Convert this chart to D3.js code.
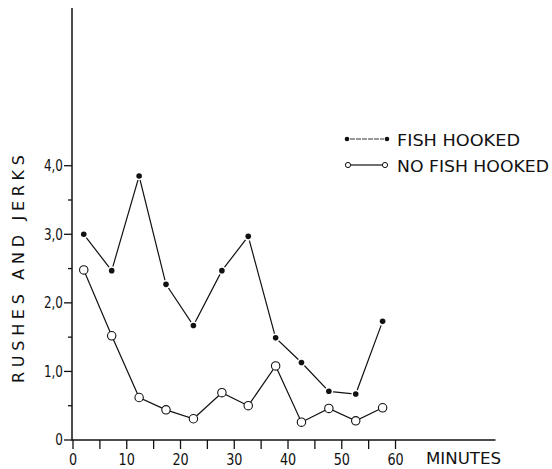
<!DOCTYPE html>
<html>
<head>
<meta charset="utf-8">
<script src="https://cdn.jsdelivr.net/npm/d3@7"></script>
<style>
  html, body { margin: 0; padding: 0; background: #fff; }
  svg { display: block; }
  text { font-family: "Liberation Sans Narrow", "DejaVu Sans", sans-serif; fill: #111; }
</style>
</head>
<body>
<svg id="chart" width="552" height="469"></svg>
<script>
// minutes (midpoints of 5-minute bins)
const minutes = [2, 7.2, 12.3, 17.3, 22.4, 27.7, 32.6, 37.7, 42.5, 47.6, 52.6, 57.6];
const fishHooked = [3.0, 2.47, 3.85, 2.27, 1.67, 2.47, 2.97, 1.49, 1.13, 0.71, 0.67, 1.73];
const noFishHooked = [2.48, 1.52, 0.62, 0.44, 0.31, 0.69, 0.5, 1.08, 0.26, 0.46, 0.28, 0.47];

const xTicks = [0, 5, 10, 15, 20, 25, 30, 35, 40, 45, 50, 55, 60];
const xLabels = [0, 10, 20, 30, 40, 50, 60];
const yMajor = [0, 1, 2, 3, 4];
const yMinor = [0.5, 1.5, 2.5, 3.5];
const yLabel = d => d === 0 ? "0" : d.toFixed(1).replace(".", ",");

const svg = d3.select("#chart");
const narrow = 0.8; // squeeze glyphs horizontally, the lettering is condensed

const x = d3.scaleLinear().domain([0, 78.6]).range([73, 495.5]);
const y = d3.scaleLinear().domain([0, 6.3]).range([440, 8]);

// axes
const gx = svg.append("g").attr("transform", `translate(0,${y(0)})`);
gx.append("line")
    .attr("x1", 72).attr("x2", x(78.6))
    .attr("stroke", "#111").attr("stroke-width", 1.5);
gx.selectAll(".tk").data(xTicks).join("line")
    .attr("x1", d => x(d)).attr("x2", d => x(d))
    .attr("y1", 0).attr("y2", 9)
    .attr("stroke", "#111").attr("stroke-width", 1.3);
gx.selectAll(".lb").data(xLabels).join("text")
    .attr("transform", d => `translate(${x(d)},24.5) scale(${narrow},1)`)
    .attr("text-anchor", "middle")
    .attr("font-size", 16)
    .text(d => d);
svg.append("text")
    .attr("x", 426).attr("y", 464)
    .attr("font-size", 16)
    .attr("textLength", 75).attr("lengthAdjust", "spacingAndGlyphs")
    .text("MINUTES");

const gy = svg.append("g").attr("transform", `translate(72,0)`);
gy.append("line")
    .attr("y1", y(0) + 0.75).attr("y2", y(6.3))
    .attr("stroke", "#111").attr("stroke-width", 1.5);
gy.selectAll(".mj").data(yMajor).join("line")
    .attr("x1", -8).attr("x2", 0)
    .attr("y1", d => y(d)).attr("y2", d => y(d))
    .attr("stroke", "#111").attr("stroke-width", 1.3);
gy.selectAll(".mn").data(yMinor).join("line")
    .attr("x1", -4).attr("x2", 0)
    .attr("y1", d => y(d)).attr("y2", d => y(d))
    .attr("stroke", "#111").attr("stroke-width", 1.3);
gy.selectAll(".lb").data(yMajor).join("text")
    .attr("transform", d => `translate(-9,${y(d)}) scale(${narrow},1)`)
    .attr("dy", "0.36em")
    .attr("text-anchor", "end")
    .attr("font-size", 15)
    .text(yLabel);

svg.append("text")
    .attr("transform", "translate(24,269) rotate(-90)")
    .attr("text-anchor", "middle")
    .attr("font-size", 16)
    .attr("textLength", 228).attr("lengthAdjust", "spacing")
    .text("RUSHES  AND  JERKS");

// series
const line = d3.line().x(d => x(d[0])).y(d => y(d[1]));
const fishPts = minutes.map((m, i) => [m, fishHooked[i]]);
const noFishPts = minutes.map((m, i) => [m, noFishHooked[i]]);

svg.append("path").datum(noFishPts)
    .attr("d", line).attr("fill", "none")
    .attr("stroke", "#111").attr("stroke-width", 1.2);
svg.append("path").datum(fishPts)
    .attr("d", line).attr("fill", "none")
    .attr("stroke", "#111").attr("stroke-width", 1.2);

svg.selectAll(".open").data(noFishPts).join("circle")
    .attr("cx", d => x(d[0])).attr("cy", d => y(d[1]))
    .attr("r", 4.2)
    .attr("fill", "#fff").attr("stroke", "#111").attr("stroke-width", 1.1);
// white halo gives the small gap where the line meets a dot
svg.selectAll(".halo").data(fishPts).join("circle")
    .attr("cx", d => x(d[0])).attr("cy", d => y(d[1]))
    .attr("r", 4.3).attr("fill", "#fff");
svg.selectAll(".dot").data(fishPts).join("circle")
    .attr("cx", d => x(d[0])).attr("cy", d => y(d[1]))
    .attr("r", 2.8).attr("fill", "#111");

// legend
const leg = svg.append("g");
leg.append("line").attr("x1", 350).attr("x2", 384).attr("y1", 139).attr("y2", 139)
    .attr("stroke", "#333").attr("stroke-width", 1).attr("stroke-dasharray", "5,1");
leg.selectAll(".ld").data([347, 387]).join("circle")
    .attr("cx", d => d).attr("cy", 139).attr("r", 2.3).attr("fill", "#111");
leg.append("text").attr("x", 397).attr("y", 145.5)
    .attr("font-size", 15)
    .attr("textLength", 123).attr("lengthAdjust", "spacingAndGlyphs")
    .text("FISH  HOOKED");

leg.append("line").attr("x1", 351).attr("x2", 382).attr("y1", 165).attr("y2", 165)
    .attr("stroke", "#111").attr("stroke-width", 1.2);
leg.selectAll(".lo").data([348, 385]).join("circle")
    .attr("cx", d => d).attr("cy", 165).attr("r", 2.6)
    .attr("fill", "#fff").attr("stroke", "#111").attr("stroke-width", 1);
leg.append("text").attr("x", 397).attr("y", 171.5)
    .attr("font-size", 15)
    .attr("textLength", 152).attr("lengthAdjust", "spacingAndGlyphs")
    .text("NO FISH  HOOKED");
</script>
</body>
</html>
